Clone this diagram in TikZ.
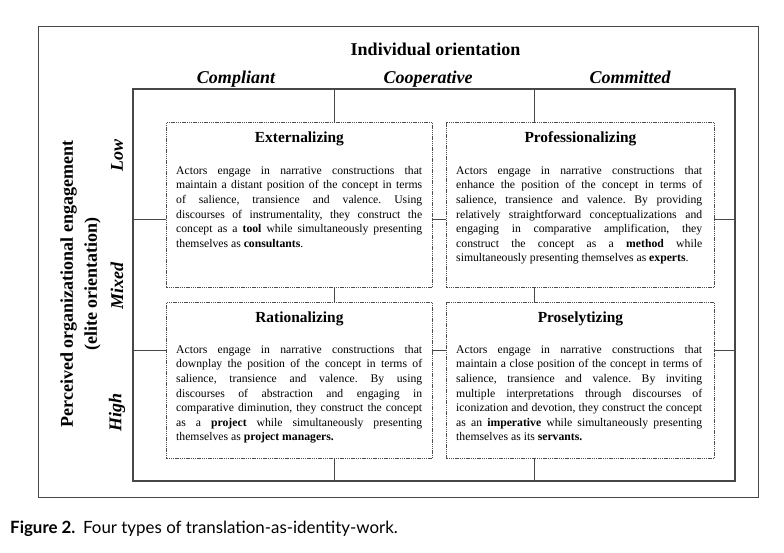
\documentclass[tikz,border=0pt]{standalone}
\usepackage{fontspec}
\setmainfont{Liberation Serif}
\newfontfamily\capfont{Lato}
\usepackage{tikz}
\usetikzlibrary{positioning, calc}
\newcommand\quadsetup{\frenchspacing\tolerance=10000 \hbadness=10000 \hyphenpenalty=10000\relax}

\begin{document}
\begin{tikzpicture}[x=1pt, y=-1pt,
  frameline/.style={draw=black!72, line width=0.9pt},
  gridline/.style={draw=black!72, line width=1pt},
  quad/.style={rectangle, draw=black!70, fill=white, line width=0.8pt,
               dash pattern=on 1.4pt off 0.8pt, inner sep=0pt, anchor=north west},
  quadtitle/.style={font=\fontsize{15.4}{18}\selectfont\bfseries, anchor=base, inner sep=0pt},
  quadtext/.style={font=\fontsize{11.7}{14.6}\selectfont\quadsetup,
                   text width=246pt, align=justify, anchor=north west, inner sep=0pt},
  axistitle/.style={font=\fontsize{18}{24}\selectfont\bfseries, inner sep=0pt},
  axislevel/.style={font=\fontsize{18}{22}\selectfont\bfseries\itshape, inner sep=0pt}]
\useasboundingbox (0,0) rectangle (784,552);
\draw[frameline] (38,26) rectangle (758,497);
\node[axistitle, anchor=base] (indiv) at (435.5,55) {Individual orientation};
\node[axislevel, anchor=base] (compl) at (236,83) {Compliant};
\node[axislevel, anchor=base] (coop) at (428,83) {Cooperative};
\node[axislevel, anchor=base] (commit) at (630,83) {Committed};
\node[axistitle, rotate=90, align=center] (engage) at (80.5,284) {Perceived organizational engagement\\(elite orientation)};
\node[axislevel, rotate=90] (low) at (117,155) {Low};
\node[axislevel, rotate=90] (mixed) at (117,286) {Mixed};
\node[axislevel, rotate=90] (high) at (117,412) {High};
% grid behind the four types
\coordinate (gnw) at (133,89);
\coordinate (gse) at (735,481);
\draw[gridline, line width=1.4pt] (gnw) rectangle (gse);
\foreach \x in {334,534} \draw[gridline] (\x,89) -- (\x,481);
\foreach \y in {219,350} \draw[gridline] (133,\y) -- (735,\y);
% four types
\node[quad, minimum width=266pt, minimum height=165pt] (ext) at (166,122) {};
\node[quad, minimum width=268pt, minimum height=165pt] (pro) at (446,122) {};
\node[quad, minimum width=266pt, minimum height=156pt] (rat) at (166,302) {};
\node[quad, minimum width=268pt, minimum height=156pt] (prs) at (446,302) {};
\node[quadtitle] (ext-t) at ([yshift=-20pt]ext.north) {Externalizing};
\node[quadtitle] (pro-t) at ([yshift=-20pt]pro.north) {Professionalizing};
\node[quadtitle] (rat-t) at ([yshift=-20pt]rat.north) {Rationalizing};
\node[quadtitle] (prs-t) at ([yshift=-20pt]prs.north) {Proselytizing};
\node[quadtext] (ext-b) at ([xshift=10pt,yshift=-44pt]ext.north west) {Actors engage in narrative constructions that\linebreak
maintain a distant position of the concept in terms\linebreak
of salience, transience and valence. Using\linebreak
discourses of instrumentality, they construct the\linebreak
concept as a \textbf{tool} while simultaneously presenting\linebreak
themselves as \textbf{consultants}.};
\node[quadtext] (pro-b) at ([xshift=10pt,yshift=-44pt]pro.north west) {Actors engage in narrative constructions that\linebreak
enhance the position of the concept in terms of\linebreak
salience, transience and valence. By providing\linebreak
relatively straightforward conceptualizations and\linebreak
engaging in comparative amplification, they\linebreak
construct the concept as a \textbf{method} while\linebreak
simultaneously presenting themselves as \textbf{experts}.};
\node[quadtext] (rat-b) at ([xshift=10pt,yshift=-43pt]rat.north west) {Actors engage in narrative constructions that\linebreak
downplay the position of the concept in terms of\linebreak
salience, transience and valence. By using\linebreak
discourses of abstraction and engaging in\linebreak
comparative diminution, they construct the concept\linebreak
as a \textbf{project} while simultaneously presenting\linebreak
themselves as \textbf{project managers.}};
\node[quadtext] (prs-b) at ([xshift=10pt,yshift=-43pt]prs.north west) {Actors engage in narrative constructions that\linebreak
maintain a close position of the concept in terms of\linebreak
salience, transience and valence. By inviting\linebreak
multiple interpretations through discourses of\linebreak
iconization and devotion, they construct the concept\linebreak
as an \textbf{imperative} while simultaneously presenting\linebreak
themselves as its \textbf{servants.}};
\node[font=\capfont\fontsize{16.9}{20}\selectfont, anchor=base west, inner sep=0pt] (caption) at (10,533)
  {\textbf{Figure 2.}\hspace{0.45em}Four types of translation-as-identity-work.};
\end{tikzpicture}
\end{document}
